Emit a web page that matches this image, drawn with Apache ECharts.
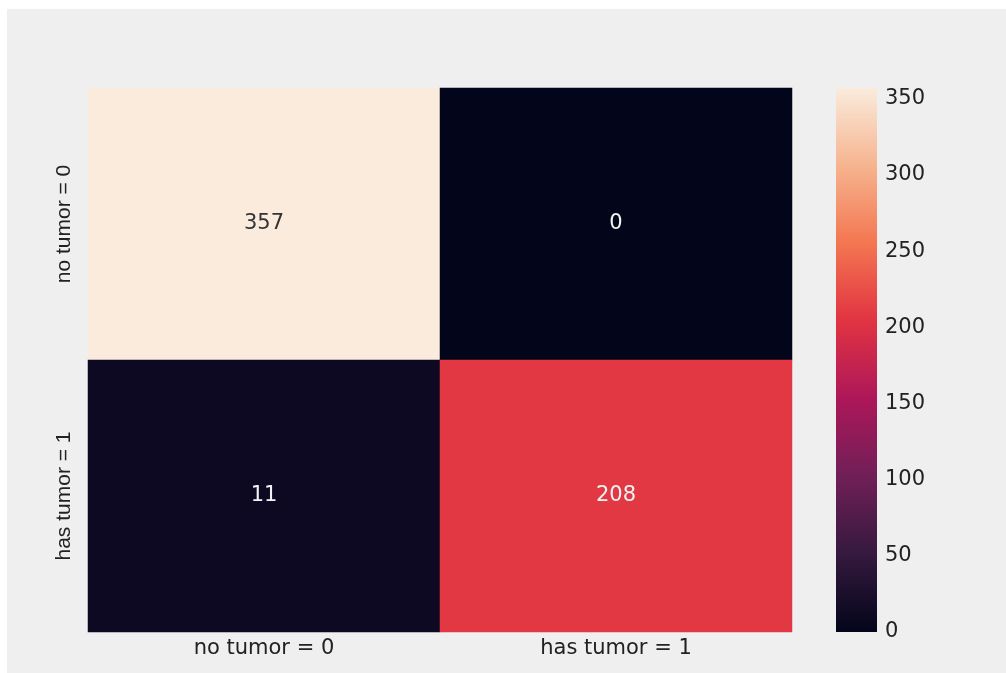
<!DOCTYPE html>
<html>
<head>
<meta charset="utf-8">
<script src="https://cdn.jsdelivr.net/npm/echarts@6/dist/echarts.min.js"></script>
<style>
  html, body { margin: 0; padding: 0; background: #ffffff; }
  #confusionMatrix {
    position: absolute;
    left: 7px;
    top: 9px;
    width: 999px;
    height: 664px;
  }
</style>
</head>
<body>
<div id="confusionMatrix"></div>
<script>
// labels, top row first
var xLabels = ['no tumor = 0', 'has tumor = 1']
var yLabels = ['no tumor = 0', 'has tumor = 1']
// confusion matrix counts [col, row, value]
var cells = [
  [0, 0, 357],
  [1, 0, 0],
  [0, 1, 11],
  [1, 1, 208]
]
var valueMax = 357
var colorbarTicks = [0, 50, 100, 150, 200, 250, 300, 350]
// seaborn "rocket", evenly spaced from low to high
var rocket = ['#03051A', '#35193E', '#701F57', '#AD1759', '#E13342', '#F37651', '#F6B48F', '#FAEBDD']

var chart = echarts.init(document.getElementById('confusionMatrix'))

var gradientStops = rocket.slice().reverse().map(function (c, i) {
  return {offset: i / (rocket.length - 1), color: c}
})

var option = {
  backgroundColor: '#efefef',
  animation: false,
  grid: [
    {left: 81, right: 214, top: 79, bottom: 41},
    {left: 829, width: 41, top: 79, bottom: 41}
  ],
  xAxis: [
    {
      type: 'category',
      gridIndex: 0,
      data: xLabels,
      axisLine: {show: false},
      axisTick: {show: false},
      splitLine: {show: false},
      axisLabel: {
        margin: 6,
        color: '#222',
        fontFamily: 'DejaVu Sans',
        fontSize: 21
      }
    },
    {
      type: 'category',
      gridIndex: 1,
      data: [''],
      show: false
    }
  ],
  yAxis: [
    {
      type: 'category',
      gridIndex: 0,
      data: yLabels,
      inverse: true,
      axisLine: {show: false},
      axisTick: {show: false},
      splitLine: {show: false},
      axisLabel: {
        rotate: 90,
        margin: 13,
        color: '#222',
        fontFamily: 'Liberation Sans',
        fontSize: 21
      }
    },
    {
      type: 'value',
      gridIndex: 1,
      position: 'right',
      min: 0,
      max: valueMax,
      interval: 50,
      axisLine: {show: false},
      axisTick: {show: false},
      splitLine: {show: false},
      axisLabel: {
        margin: 8,
        color: '#222',
        fontFamily: 'DejaVu Sans',
        fontSize: 21,
        formatter: function (v) {
          return colorbarTicks.indexOf(v) >= 0 ? String(v) : ''
        }
      }
    }
  ],
  visualMap: {
    show: false,
    seriesIndex: 0,
    min: 0,
    max: valueMax,
    inRange: {color: rocket}
  },
  series: [
    {
      type: 'heatmap',
      xAxisIndex: 0,
      yAxisIndex: 0,
      data: cells,
      label: {
        show: true,
        fontFamily: 'DejaVu Sans',
        fontSize: 21,
        formatter: function (p) { return String(p.value[2]) },
        color: '#f2f2f2'
      },
      emphasis: {disabled: true}
    },
    {
      // colorbar
      type: 'bar',
      xAxisIndex: 1,
      yAxisIndex: 1,
      barWidth: '100%',
      data: [valueMax],
      silent: true,
      itemStyle: {
        color: new echarts.graphic.LinearGradient(0, 0, 0, 1, gradientStops)
      }
    }
  ]
}

// dark text on the light cell
option.series[0].data = cells.map(function (c) {
  var item = {value: c}
  if (c[2] > valueMax * 0.6) item.label = {color: '#333'}
  return item
})

chart.setOption(option)
</script>
</body>
</html>
